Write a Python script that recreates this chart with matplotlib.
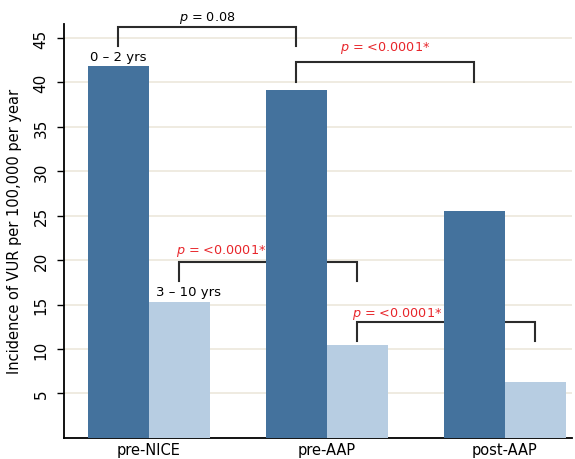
import numpy as np
import matplotlib
matplotlib.use("Agg")
import matplotlib.pyplot as plt

# ── Data ─────────────────────────────────────────────────────────────
periods = ["pre-NICE", "pre-AAP", "post-AAP"]
age_0_2 = [41.8, 39.2, 25.5]
age_3_10 = [15.3, 10.4, 6.3]
y_ticks = [5, 10, 15, 20, 25, 30, 35, 40, 45]

COLORS = {"dark": "#44729D", "light": "#B7CDE2", "grid": "#ECE8DC",
          "bracket": "#2B2B2B", "sig": "#E8262B"}

plt.rcParams["font.family"] = ["DejaVu Sans"]
plt.rcParams["mathtext.fontset"] = "dejavusans"

fig = plt.figure(figsize=(5.75, 4.6), dpi=100)
ax = fig.add_axes([0.111, 0.046, 0.884, 0.9])

x = np.arange(len(periods))
w = 0.343
ax.bar(x - w / 2, age_0_2, width=w, color=COLORS["dark"], zorder=3)
ax.bar(x + w / 2, age_3_10, width=w, color=COLORS["light"], zorder=3)

ax.set_xlim(-0.478, 2.38)
ax.set_ylim(0, 46.6)
ax.set_yticks(y_ticks)
ax.set_yticklabels([str(t) for t in y_ticks], rotation=90, va="center", fontsize=11)
ax.set_xticks(x)
ax.set_xticklabels(periods, fontsize=10.5)
ax.tick_params(axis="x", length=0, pad=3)
ax.tick_params(axis="y", length=5, width=1, pad=6)
ax.grid(axis="y", color=COLORS["grid"], linewidth=1.2, zorder=0)
ax.spines[["top", "right"]].set_visible(False)
ax.spines["left"].set_linewidth(1.3)
ax.spines["bottom"].set_linewidth(1.3)
ax.set_ylabel("Incidence of VUR per 100,000 per year", fontsize=10.5, labelpad=8)


def bracket(x1, x2, top, leg1, leg2, z):
    ax.plot([x1, x1, x2, x2], [leg1, top, top, leg2], color=COLORS["bracket"],
            linewidth=1.5, zorder=z, clip_on=False, solid_joinstyle="miter")


# p = 0.08 (0-2 yrs, pre-NICE vs pre-AAP)
bracket(x[0] - w / 2, x[1] - w / 2, 46.27, 44.1, 44.1, 4)
ax.text((x[0] + x[1]) / 2 - w / 2, 47.4, r"$\it{p}$ = 0.08", ha="center",
        va="center", fontsize=9.2)

# pre-AAP vs post-AAP, 0-2 yrs
bracket(x[1] - w / 2, x[2] - w / 2, 42.3, 40.05, 40.05, 4)
ax.text((x[1] + x[2]) / 2 - w / 2, 44.0, r"$\it{p}$ = <0.0001*", ha="center",
        va="center", fontsize=9.2, color=COLORS["sig"])

# pre-NICE vs pre-AAP, 3-10 yrs
bracket(x[0] + w / 2, x[1] + w / 2, 19.82, 17.6, 17.6, 2)
ax.text(x[0] + w / 2 - 0.02, 21.1, r"$\it{p}$ = <0.0001*", ha="left",
        va="center", fontsize=9.2, color=COLORS["sig"])

# pre-AAP vs post-AAP, 3-10 yrs
bracket(x[1] + w / 2, x[2] + w / 2, 13.04, 10.85, 10.85, 2)
ax.text(x[1] + w / 2 - 0.03, 14.1, r"$\it{p}$ = <0.0001*", ha="left",
        va="center", fontsize=9.2, color=COLORS["sig"])

# age group labels
ax.text(x[0] - w / 2, age_0_2[0] + 1.1, "0 – 2 yrs", ha="center", va="center",
        fontsize=9.5)
ax.text(x[0] + w / 2 + 0.05, 16.5, "3 – 10 yrs", ha="center", va="center",
        fontsize=9.5)

fig.savefig("out.png", dpi=100, facecolor="white")
